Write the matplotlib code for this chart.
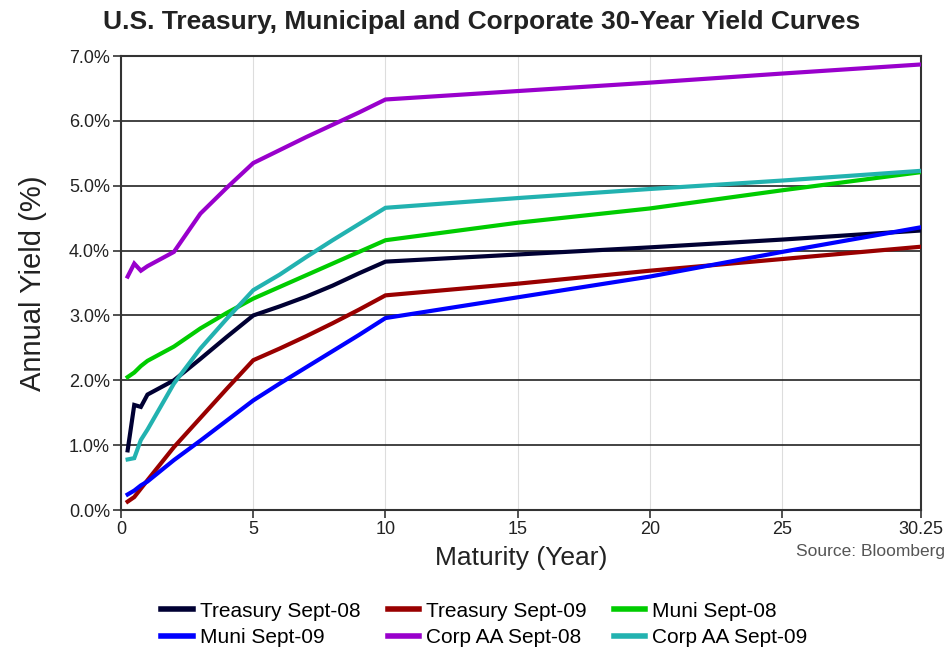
import matplotlib
matplotlib.use("Agg")
import matplotlib.pyplot as plt
from matplotlib.ticker import FuncFormatter

plt.rcParams['font.family'] = ['Liberation Sans', 'DejaVu Sans']

# Maturities (years) shared by every curve
maturity = [0.25, 0.5, 0.75, 1, 2, 3, 4, 5, 6, 7, 8, 9, 10, 15, 20, 25, 30.25]

# Yields in percent
treasury_08 = [0.92, 1.62, 1.59, 1.78, 2.00, 2.33, 2.67, 3.00, 3.14, 3.29, 3.46, 3.65, 3.83, 3.94, 4.05, 4.17, 4.31]
treasury_09 = [0.13, 0.20, 0.33, 0.46, 0.97, 1.42, 1.87, 2.31, 2.49, 2.68, 2.88, 3.09, 3.31, 3.49, 3.69, 3.87, 4.06]
muni_08 = [2.05, 2.12, 2.22, 2.30, 2.52, 2.80, 3.04, 3.26, 3.44, 3.62, 3.80, 3.98, 4.16, 4.43, 4.65, 4.93, 5.21]
muni_09 = [0.24, 0.30, 0.38, 0.44, 0.77, 1.07, 1.38, 1.69, 1.95, 2.20, 2.45, 2.70, 2.96, 3.28, 3.60, 3.98, 4.36]
corp_08 = [3.60, 3.80, 3.69, 3.76, 3.98, 4.57, 4.97, 5.35, 5.55, 5.75, 5.94, 6.13, 6.33, 6.46, 6.59, 6.73, 6.87]
corp_09 = [0.78, 0.80, 1.08, 1.24, 1.95, 2.49, 2.95, 3.39, 3.63, 3.90, 4.16, 4.41, 4.66, 4.81, 4.95, 5.08, 5.23]

labels = ["Treasury Sept-08", "Treasury Sept-09", "Muni Sept-08",
          "Muni Sept-09", "Corp AA Sept-08", "Corp AA Sept-09"]
colors = ["#000033", "#990000", "#00cc00", "#0000ff", "#9900cc", "#22b2b0"]
series = [treasury_08, treasury_09, muni_08, muni_09, corp_08, corp_09]

x_ticks = [0, 5, 10, 15, 20, 25, 30.25]
x_tick_labels = ["0", "5", "10", "15", "20", "25", "30.25"]

fig = plt.figure(figsize=(9.5, 6.47), dpi=100)
ax = fig.add_axes([0.1274, 0.2117, 0.8421, 0.7017])

handles = []
for ys, lab, col in zip(series, labels, colors):
    h, = ax.plot(maturity, ys, color=col, linewidth=3, label=lab,
                 solid_joinstyle='miter', zorder=3)
    handles.append(h)

ax.set_xlim(0, 30.25)
ax.set_ylim(0, 7)
ax.set_xticks(x_ticks)
ax.set_xticklabels(x_tick_labels)
ax.set_yticks(range(0, 8))
ax.yaxis.set_major_formatter(FuncFormatter(lambda v, p: f"{v:.1f}%"))

# horizontal grid dark, vertical grid faint
ax.yaxis.grid(True, color="#222222", linewidth=1.2, zorder=1)
ax.xaxis.grid(True, color="#dddddd", linewidth=0.8, zorder=1)
ax.set_axisbelow(True)

for sp in ax.spines.values():
    sp.set_color("#333333")
    sp.set_linewidth(1.5)

ax.tick_params(axis='both', direction='out', length=6, width=1.2,
               color="#333333", labelsize=13, labelcolor="#222222", pad=2)

ax.set_xlabel("Maturity (Year)", fontsize=19, color="#222222", labelpad=6)
ax.set_ylabel("Annual Yield (%)", fontsize=21, color="#222222", labelpad=16)

fig.text(0.507, 0.966, "U.S. Treasury, Municipal and Corporate 30-Year Yield Curves",
         ha='center', va='center', fontsize=19, fontweight='bold', color="#222222")
fig.text(0.995, 0.148, "Source: Bloomberg", ha='right', va='center',
         fontsize=12.5, color="#555555")

# legend fills row by row: reorder for matplotlib's column-major layout
order = [0, 3, 1, 4, 2, 5]
leg = fig.legend([handles[i] for i in order], [labels[i] for i in order],
                 loc='center', bbox_to_anchor=(0.51, 0.035), ncol=3,
                 frameon=False, fontsize=15, handlelength=1.5,
                 handletextpad=0.35, columnspacing=1.3, labelspacing=0.35,
                 borderpad=0)
for line in leg.get_lines():
    line.set_linewidth(4)

fig.savefig("out.png", dpi=100)
